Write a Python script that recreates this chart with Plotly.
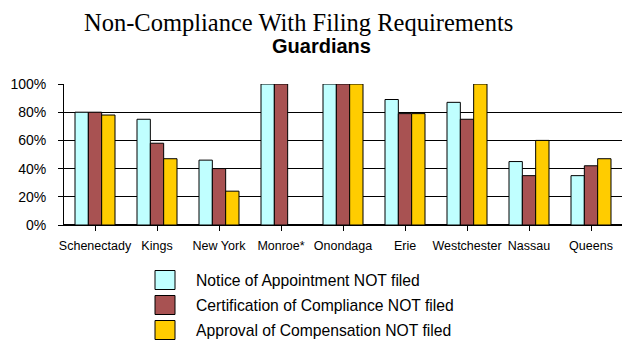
import plotly.graph_objects as go

counties = ["Schenectady", "Kings", "New York", "Monroe*", "Onondaga", "Erie",
            "Westchester", "Nassau", "Queens"]
notice_not_filed = [80, 75, 46, 100, 100, 89, 87, 45, 35]
certification_not_filed = [80, 58, 40, 100, 100, 79, 75, 35, 42]
approval_not_filed = [78, 47, 24, 0, 100, 79, 100, 60, 47]

series_names = ["Notice of Appointment NOT filed",
                "Certification of Compliance NOT filed",
                "Approval of Compensation NOT filed"]
series_values = [notice_not_filed, certification_not_filed, approval_not_filed]
colors = ["#C0FFFF", "#A85252", "#FFCC00"]

y_ticks = [0, 20, 40, 60, 80, 100]
y_tick_labels = ["0%", "20%", "40%", "60%", "80%", "100%"]

W, H = 624, 356
L, R, T, B = 64, 2, 84, 131
pw, ph = W - L - R, H - T - B

fig = go.Figure()
for name, vals, col in zip(series_names, series_values, colors):
    fig.add_trace(go.Bar(x=counties, y=vals, name=name, marker_color=col,
                         marker_line_color="black", marker_line_width=1,
                         showlegend=False, hoverinfo="skip"))

def px_x(px):
    return (px - L) / pw

def px_y(py):
    return (H - B - py) / ph

# custom legend (boxes + labels)
legend_rows = [280, 305, 330]
for name, col, cy in zip(series_names, colors, legend_rows):
    fig.add_shape(type="rect", xref="paper", yref="paper",
                  x0=px_x(155), x1=px_x(175), y0=px_y(cy + 9.5), y1=px_y(cy - 9.5),
                  fillcolor=col, line=dict(color="black", width=1))
    fig.add_annotation(xref="paper", yref="paper", x=px_x(194), y=px_y(cy),
                       text=name, showarrow=False, xanchor="left", yanchor="middle",
                       font=dict(family="Liberation Sans, Arial", size=15.7, color="black"))

fig.add_annotation(xref="paper", yref="paper", x=px_x(298), y=px_y(23),
                   text="Non-Compliance With Filing Requirements", showarrow=False,
                   xanchor="center", yanchor="middle",
                   font=dict(family="Liberation Serif, Times New Roman", size=24.5, color="black"))
fig.add_annotation(xref="paper", yref="paper", x=px_x(321), y=px_y(46),
                   text="<b>Guardians</b>", showarrow=False,
                   xanchor="center", yanchor="middle",
                   font=dict(family="Liberation Sans, Arial", size=20, color="black"))

fig.update_layout(
    width=W, height=H,
    margin=dict(l=L, r=R, t=T, b=B, pad=0),
    paper_bgcolor="white", plot_bgcolor="white",
    barmode="group", bargap=0.355, bargroupgap=0,
    font=dict(family="Liberation Sans, Arial", size=13, color="black"),
)
fig.update_xaxes(showline=True, linecolor="black", linewidth=1,
                 ticks="outside", ticklen=5, tickcolor="black",
                 ticklabelstandoff=4,
                 tickfont=dict(size=12.5), showgrid=False)
fig.update_yaxes(range=[0, 100], tickvals=y_ticks, ticktext=y_tick_labels,
                 showline=True, linecolor="black", linewidth=1,
                 ticks="outside", ticklen=5, tickcolor="black",
                 ticklabelstandoff=9,
                 showgrid=True, gridcolor="black", gridwidth=1,
                 zeroline=True, zerolinecolor="black",
                 tickfont=dict(size=14))

fig.write_html("out.html", config={"displayModeBar": False},
               post_script="document.body.style.margin='0';document.body.style.overflow='hidden';")
